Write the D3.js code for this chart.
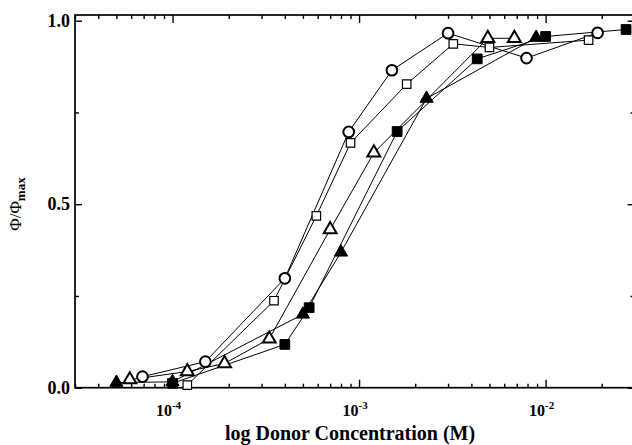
<!DOCTYPE html>
<html>
<head>
<meta charset="utf-8">
<script src="https://cdn.jsdelivr.net/npm/d3@7"></script>
<style>
    body { margin: 0; background: #fff; }
    svg { display: block; }
    .tick text { display: none; }
    text { fill: #000; }
</style>
</head>
<body>
<svg id="chart" width="632" height="445"></svg>
<script>

// donor concentration (M) and normalised yield for each series
const circleConc = [6.9e-5, 1.5e-4, 4.0e-4, 8.8e-4, 1.5e-3, 3.0e-3, 7.9e-3, 1.9e-2];
const circlePhi = [0.030, 0.071, 0.298, 0.697, 0.865, 0.966, 0.898, 0.967];

const openSqConc = [1.2e-4, 3.5e-4, 5.9e-4, 9.0e-4, 1.8e-3, 3.2e-3, 5.0e-3, 1.7e-2];
const openSqPhi = [0.007, 0.237, 0.468, 0.667, 0.827, 0.937, 0.927, 0.947];

const openTriConc = [5.9e-5, 1.2e-4, 1.9e-4, 3.3e-4, 7.0e-4, 1.2e-3, 4.9e-3, 6.8e-3];
const openTriPhi = [0.022, 0.044, 0.066, 0.133, 0.431, 0.640, 0.952, 0.952];

const fillTriConc = [5.0e-5, 1.0e-4, 5.0e-4, 8.0e-4, 2.3e-3, 8.9e-3];
const fillTriPhi = [0.014, 0.016, 0.200, 0.369, 0.788, 0.954];

const fillSqConc = [1.0e-4, 4.0e-4, 5.4e-4, 1.6e-3, 4.3e-3, 1.0e-2, 2.7e-2];
const fillSqPhi = [0.012, 0.118, 0.218, 0.698, 0.896, 0.957, 0.976];

const xMajor = [1e-4, 1e-3, 1e-2];
const xMajorExp = ["-4", "-3", "-2"];
const yMajor = [0, 0.5, 1.0];
const yMinor = [0.25, 0.75];

const LEFT = 75;
const RIGHT = 634.6; // right frame sits just past the window edge
const TOP = 15;
const BOTTOM = 387.7;
const FONT = "'Liberation Serif', 'Times New Roman', serif";

const x = d3.scaleLog().domain([3e-5, 3e-2]).range([LEFT, RIGHT]);
const y = d3.scaleLinear().domain([0, 1.0155]).range([BOTTOM, TOP]);

const svg = d3.select("#chart");

// minor log ticks 2..9 of each decade
let xMinor = [];
for (let d = -5; d <= -2; d++) {
    for (let m = 2; m <= 9; m++) {
        const v = m * Math.pow(10, d);
        if (v > 3e-5 && v < 3e-2) xMinor.push(v);
    }
}

function styleAxis(g) {
    g.select(".domain").remove();
    g.selectAll(".tick line").attr("stroke", "#000").attr("stroke-width", 1.4);
}

// ticks point inward on all four sides
svg.append("g").attr("transform", "translate(0," + BOTTOM + ")")
    .call(d3.axisBottom(x).tickValues(xMinor).tickSize(-4)).call(styleAxis);
svg.append("g").attr("transform", "translate(0," + BOTTOM + ")")
    .call(d3.axisBottom(x).tickValues(xMajor).tickSize(-8)).call(styleAxis);
svg.append("g").attr("transform", "translate(0," + TOP + ")")
    .call(d3.axisTop(x).tickValues(xMinor).tickSize(-4)).call(styleAxis);
svg.append("g").attr("transform", "translate(0," + TOP + ")")
    .call(d3.axisTop(x).tickValues(xMajor).tickSize(-8)).call(styleAxis);

svg.append("g").attr("transform", "translate(" + LEFT + ",0)")
    .call(d3.axisLeft(y).tickValues(yMinor).tickSize(-4)).call(styleAxis);
svg.append("g").attr("transform", "translate(" + LEFT + ",0)")
    .call(d3.axisLeft(y).tickValues(yMajor).tickSize(-7)).call(styleAxis);
svg.append("g").attr("transform", "translate(" + RIGHT + ",0)")
    .call(d3.axisRight(y).tickValues(yMinor).tickSize(-4)).call(styleAxis);
svg.append("g").attr("transform", "translate(" + RIGHT + ",0)")
    .call(d3.axisRight(y).tickValues(yMajor).tickSize(-7)).call(styleAxis);

// frame
svg.append("rect")
    .attr("x", LEFT).attr("y", TOP)
    .attr("width", RIGHT - LEFT).attr("height", BOTTOM - TOP)
    .attr("fill", "none").attr("stroke", "#000").attr("stroke-width", 1.7);

// y tick labels
svg.selectAll(".ylab").data(yMajor).enter().append("text")
    .attr("x", 70).attr("y", d => y(d) + 6)
    .attr("text-anchor", "end")
    .attr("font-family", FONT).attr("font-weight", "bold").attr("font-size", 18)
    .text(d => d.toFixed(1));

// x tick labels as 10^n
xMajor.forEach(function(v, i) {
    const t = svg.append("text")
        .attr("x", x(v) - 4).attr("y", 416)
        .attr("text-anchor", "middle")
        .attr("font-family", FONT).attr("font-weight", "bold").attr("font-size", 16);
    t.append("tspan").text("10");
    t.append("tspan").attr("dy", -7).attr("font-size", 11).text(xMajorExp[i]);
});

// axis titles
svg.append("text")
    .attr("x", 350).attr("y", 440)
    .attr("text-anchor", "middle")
    .attr("font-family", FONT).attr("font-weight", "bold").attr("font-size", 20)
    .text("log Donor Concentration (M)");

const yt = svg.append("text")
    .attr("transform", "translate(21,204) rotate(-90)")
    .attr("text-anchor", "middle")
    .attr("font-family", FONT).attr("font-size", 17);
yt.append("tspan").text("Φ/Φ");
yt.append("tspan").attr("dy", 4).attr("font-size", 13).attr("font-weight", "bold").text("max");

// series
const series = [
    {conc: fillSqConc, phi: fillSqPhi, shape: d3.symbolSquare, size: 95, fill: "#000", sw: 1},
    {conc: fillTriConc, phi: fillTriPhi, shape: d3.symbolTriangle, size: 75, fill: "#000", sw: 1},
    {conc: openTriConc, phi: openTriPhi, shape: d3.symbolTriangle, size: 72, fill: "#fff", sw: 2},
    {conc: openSqConc, phi: openSqPhi, shape: d3.symbolSquare, size: 72, fill: "#fff", sw: 1.2},
    {conc: circleConc, phi: circlePhi, shape: d3.symbolCircle, size: 90, fill: "#fff", sw: 2}
];

const line = d3.line().x(d => x(d[0])).y(d => y(d[1]));

const lineLayer = svg.append("g");
const markLayer = svg.append("g");

series.forEach(function(s) {
    const pts = s.conc.map((c, i) => [c, s.phi[i]]);

    lineLayer.append("path")
        .attr("d", line(pts))
        .attr("fill", "none")
        .attr("stroke", "#000")
        .attr("stroke-width", 1);

    markLayer.selectAll(null).data(pts).enter().append("path")
        .attr("transform", d => "translate(" + x(d[0]) + "," + y(d[1]) + ")")
        .attr("d", d3.symbol().type(s.shape).size(s.size))
        .attr("fill", s.fill)
        .attr("stroke", "#000")
        .attr("stroke-width", s.sw);
});

</script>
</body>
</html>
